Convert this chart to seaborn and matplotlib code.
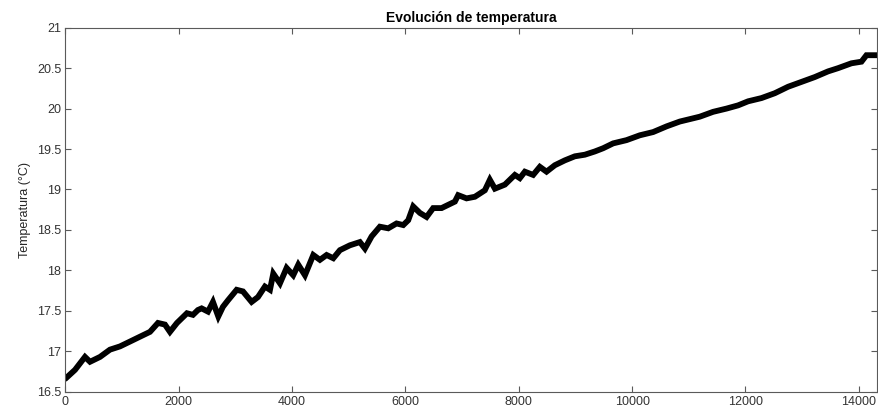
import matplotlib
matplotlib.use("Agg")
import matplotlib.pyplot as plt
import seaborn as sns
import pandas as pd

# Sample index (x) and temperature (°C)
muestra = [0, 171, 347, 436, 612, 788, 964, 1141, 1317, 1494, 1635, 1758, 1846, 1970,
           2146, 2252, 2340, 2405, 2517, 2605, 2699, 2781, 2870, 3023, 3134, 3287,
           3399, 3522, 3611, 3669, 3787, 3904, 4021, 4110, 4228, 4375, 4492, 4610,
           4728, 4845, 5021, 5197, 5286, 5404, 5550, 5697, 5844, 5962, 6050, 6138,
           6256, 6374, 6490, 6638, 6755, 6873, 6931, 7079, 7226, 7402, 7490, 7579,
           7755, 7931, 8019, 8108, 8254, 8372, 8490, 8637, 8813, 8989, 9166, 9342,
           9489, 9665, 9901, 10136, 10371, 10607, 10842, 11077, 11194, 11429, 11665,
           11870, 12046, 12282, 12517, 12752, 12988, 13223, 13457, 13634, 13869,
           14046, 14134, 14339]
temperatura = [16.66, 16.77, 16.93, 16.87, 16.93, 17.02, 17.06, 17.12, 17.18, 17.24,
               17.35, 17.33, 17.24, 17.35, 17.47, 17.45, 17.51, 17.53, 17.49, 17.61,
               17.43, 17.55, 17.63, 17.76, 17.74, 17.61, 17.67, 17.80, 17.76, 17.96,
               17.84, 18.03, 17.94, 18.07, 17.94, 18.19, 18.13, 18.19, 18.15, 18.25,
               18.31, 18.35, 18.27, 18.42, 18.54, 18.52, 18.58, 18.56, 18.62, 18.79,
               18.71, 18.66, 18.77, 18.77, 18.81, 18.85, 18.93, 18.89, 18.91, 18.99,
               19.12, 19.01, 19.06, 19.18, 19.14, 19.22, 19.18, 19.28, 19.22, 19.30,
               19.36, 19.41, 19.43, 19.47, 19.51, 19.57, 19.61, 19.67, 19.71, 19.78,
               19.84, 19.88, 19.90, 19.96, 20.00, 20.04, 20.09, 20.13, 20.19, 20.27,
               20.33, 20.39, 20.46, 20.50, 20.56, 20.58, 20.66, 20.66]

x_ticks = [0, 2000, 4000, 6000, 8000, 10000, 12000, 14000]
y_ticks = [16.5, 17, 17.5, 18, 18.5, 19, 19.5, 20, 20.5, 21]
y_tick_labels = ["16.5", "17", "17.5", "18", "18.5", "19", "19.5", "20", "20.5", "21"]

titulo = "Evolución de temperatura"
etiqueta_y = "Temperatura (°C)"

sns.set_style("white")
plt.rcParams["font.family"] = ["Liberation Sans", "DejaVu Sans"]

df = pd.DataFrame({"muestra": muestra, "temperatura": temperatura})

fig = plt.figure(figsize=(8.79, 4.16), dpi=100)
ax = fig.add_axes([0.0743, 0.0584, 0.9234, 0.875])

sns.lineplot(data=df, x="muestra", y="temperatura", ax=ax, color="black",
             linewidth=4.2, solid_joinstyle="miter")

ax.set_xlim(0, 14320)
ax.set_ylim(16.5, 21)
ax.set_xticks(x_ticks)
ax.set_xticklabels([str(t) for t in x_ticks])
ax.set_yticks(y_ticks)
ax.set_yticklabels(y_tick_labels)
ax.set_xlabel("")
ax.set_ylabel(etiqueta_y, fontsize=9, color="#262626", labelpad=4)
ax.set_title(titulo, fontsize=10, fontweight="bold", color="black", pad=4)

for s in ax.spines.values():
    s.set_visible(True)
    s.set_color("#5a5a5a")
    s.set_linewidth(0.8)

ax.tick_params(axis="both", direction="in", length=4, width=0.8, color="#5a5a5a",
               labelsize=9, labelcolor="#333333", top=True, right=True,
               bottom=True, left=True, pad=3)

fig.savefig("out.png", dpi=100)
